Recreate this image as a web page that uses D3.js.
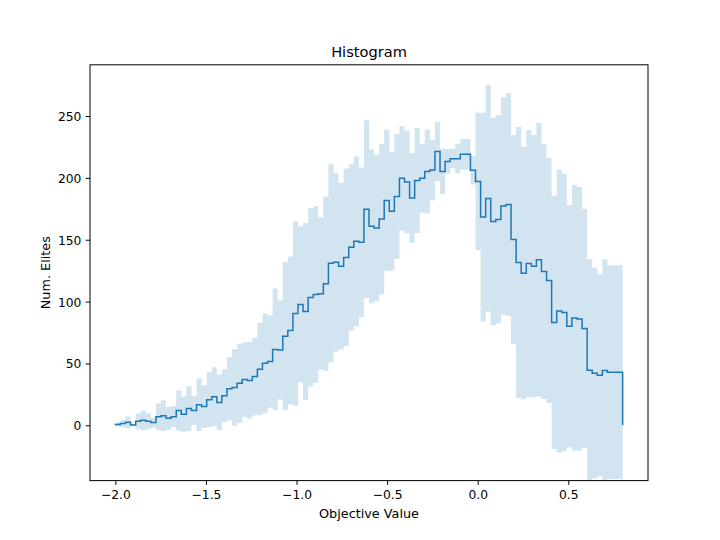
<!DOCTYPE html>
<html>
<head>
<meta charset="utf-8">
<script src="https://cdn.jsdelivr.net/npm/d3@7"></script>
<style>
  body { margin: 0; background: white; }
  text { font-family: "DejaVu Sans", sans-serif; fill: black; }
</style>
</head>
<body>
<div id="chart"></div>
<script>
// histogram of objective values: 100 bins from -2.0 to 0.8
var binStart = -2.0;
var binEnd = 0.8;

// mean count per bin
var meanElites = [
  0.6, 1.5, 2.4, 0.3, 3.2, 4.0, 3.2, 2.2, 7.0, 7.8,
  5.6, 7.0, 11.9, 8.9, 13.5, 12.0, 16.7, 15.1, 20.7, 23.1,
  18.5, 23.9, 29.6, 30.6, 34.0, 37.0, 36.3, 39.4, 45.4, 50.2,
  51.6, 61.3, 60.8, 72.0, 76.7, 90.3, 97.7, 92.0, 103.4, 105.7,
  106.4, 114.5, 130.9, 131.7, 128.5, 135.7, 143.9, 148.7, 147.9, 174.6,
  160.8, 159.4, 166.7, 181.8, 173.1, 185.0, 199.6, 196.6, 183.7, 197.9,
  199.6, 205.2, 206.3, 221.4, 205.2, 213.3, 215.5, 215.5, 219.0, 219.0,
  206.1, 197.1, 168.3, 183.4, 164.8, 166.4, 177.2, 178.5, 150.2, 131.6,
  123.0, 130.8, 128.6, 133.8, 124.3, 117.0, 83.1, 92.4, 91.2, 80.1,
  86.8, 86.0, 78.2, 44.5, 42.1, 40.5, 44.2, 42.9, 42.9, 42.9
];

// standard deviation per bin (shaded band = mean +/- std)
var stdElites = [
  1.6, 3.1, 4.8, 1.0, 6.3, 8.0, 6.3, 3.9, 10.8, 12.4,
  9.2, 8.3, 16.4, 14.3, 18.1, 11.7, 21.3, 17.3, 22.2, 23.8,
  22.6, 21.4, 25.5, 31.0, 32.0, 30.0, 31.0, 31.4, 37.3, 40.1,
  37.4, 49.2, 40.2, 59.8, 59.7, 74.5, 63.0, 71.5, 72.3, 71.3,
  61.5, 70.4, 80.1, 72.2, 67.3, 71.8, 67.2, 68.6, 60.5, 71.9,
  62.1, 59.1, 60.7, 57.0, 47.9, 50.5, 42.3, 41.5, 36.4, 42.4,
  27.8, 34.0, 24.3, 24.0, 18.4, 10.0, 7.8, 11.8, 12.4, 12.4,
  11.5, 55.6, 84.4, 91.7, 83.9, 84.2, 87.9, 90.1, 84.4, 109.5,
  101.9, 107.9, 106.0, 110.5, 103.0, 99.0, 102.2, 114.4, 112.1, 97.9,
  107.4, 106.6, 96.6, 89.8, 85.2, 81.9, 90.1, 86.5, 86.5, 86.5
];

var xTicks = [-2.0, -1.5, -1.0, -0.5, 0.0, 0.5];
var yTicks = [0, 50, 100, 150, 200, 250];

var w = 720;
var h = 540;
var margin = { left: 90, right: 72, top: 64.8, bottom: 59.4 };
var plotW = w - margin.left - margin.right;
var plotH = h - margin.top - margin.bottom;
var tickFont = 12.3;
var labelFont = 12.8;
var blue = "#1f77b4";

var binWidth = (binEnd - binStart) / meanElites.length;

var bins = meanElites.map(function(m, i) {
  return { x: binStart + i * binWidth, mean: m, std: stdElites[i] };
});
// extra point so the last step reaches the right edge
var stepPoints = bins.concat([{ x: binEnd, mean: bins[bins.length - 1].mean, std: bins[bins.length - 1].std }]);

var svg = d3.select("#chart")
  .append("svg")
  .attr("width", w)
  .attr("height", h);

var xScale = d3.scaleLinear()
  .domain([-2.14, 0.94])
  .range([0, plotW]);

var yScale = d3.scaleLinear()
  .domain([-44.7, 291.4])
  .range([plotH, 0]);

svg.append("defs")
  .append("clipPath")
  .attr("id", "plotClip")
  .append("rect")
  .attr("width", plotW)
  .attr("height", plotH);

var plot = svg.append("g")
  .attr("transform", "translate(" + margin.left + "," + margin.top + ")");

var marks = plot.append("g")
  .attr("clip-path", "url(#plotClip)");

var band = d3.area()
  .curve(d3.curveStepAfter)
  .x(function(d) { return xScale(d.x); })
  .y0(function(d) { return yScale(d.mean - d.std); })
  .y1(function(d) { return yScale(d.mean + d.std); });

marks.append("path")
  .datum(stepPoints)
  .attr("d", band)
  .attr("fill", blue)
  .attr("fill-opacity", 0.2);

// stairs line, starting and ending on the zero baseline
var linePoints = [{ x: binStart, mean: 0 }].concat(stepPoints).concat([{ x: binEnd, mean: 0 }]);

var stairs = d3.line()
  .curve(d3.curveStepAfter)
  .x(function(d) { return xScale(d.x); })
  .y(function(d) { return yScale(d.mean); });

marks.append("path")
  .datum(linePoints)
  .attr("d", stairs)
  .attr("fill", "none")
  .attr("stroke", blue)
  .attr("stroke-width", 1.5)
  .attr("stroke-linejoin", "miter");

var xAxis = plot.append("g")
  .attr("transform", "translate(0," + plotH + ")")
  .call(d3.axisBottom(xScale)
    .tickValues(xTicks)
    .tickSize(4.3)
    .tickSizeOuter(0)
    .tickFormat(function(d) { return d3.format(".1f")(d).replace("-", "\u2212"); }));

var yAxis = plot.append("g")
  .call(d3.axisLeft(yScale)
    .tickValues(yTicks)
    .tickSize(4.3)
    .tickSizeOuter(0)
    .tickFormat(d3.format("d")));

[xAxis, yAxis].forEach(function(ax) {
  ax.select(".domain").remove();
  ax.selectAll(".tick line").attr("stroke", "black").attr("stroke-width", 1);
  ax.selectAll(".tick text")
    .style("font-family", "DejaVu Sans, sans-serif")
    .style("font-size", tickFont + "px")
    .attr("fill", "black");
});

xAxis.selectAll(".tick text")
  .attr("y", 18.3)
  .attr("dy", null);

yAxis.selectAll(".tick text")
  .attr("x", -8.6)
  .attr("dy", "0.36em");

plot.append("rect")
  .attr("width", plotW)
  .attr("height", plotH)
  .attr("fill", "none")
  .attr("stroke", "black")
  .attr("stroke-width", 1);

svg.append("text")
  .attr("x", margin.left + plotW / 2)
  .attr("y", 57.3)
  .attr("text-anchor", "middle")
  .style("font-size", "14.6px")
  .text("Histogram");

svg.append("text")
  .attr("x", margin.left + plotW / 2)
  .attr("y", 517.7)
  .attr("text-anchor", "middle")
  .style("font-size", labelFont + "px")
  .text("Objective Value");

svg.append("text")
  .attr("transform", "translate(49.5," + (margin.top + plotH / 2) + ") rotate(-90)")
  .attr("text-anchor", "middle")
  .style("font-size", labelFont + "px")
  .text("Num. Elites");
</script>
</body>
</html>
